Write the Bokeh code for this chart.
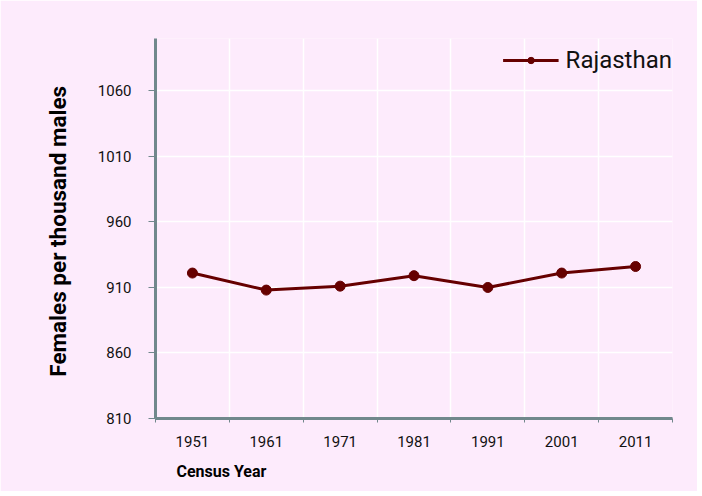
from bokeh.plotting import figure
from bokeh.models import FixedTicker, Legend, LegendItem, Title
from bokeh.embed import file_html
from bokeh.resources import INLINE

years = [1951, 1961, 1971, 1981, 1991, 2001, 2011]
sex_ratio = [921, 908, 911, 919, 910, 921, 926]
series_name = "Rajasthan"
y_ticks = [810, 860, 910, 960, 1010, 1060]
x_bounds = [1946, 1956, 1966, 1976, 1986, 1996, 2006, 2016]
x_title = "Census Year"
y_title = "Females per thousand  males"

BG = "#fdebfc"
AX = "#71888c"
LINE = "#660000"
NARROW = "Roboto"

p = figure(width=697, height=491, output_backend="svg", toolbar_location=None,
           x_range=(1946, 2016), y_range=(810, 1100),
           background_fill_color=BG, border_fill_color=BG,
           min_border_left=155, min_border_top=38, min_border_right=25, min_border_bottom=73)
p.outline_line_color = None

r = p.line(years, sex_ratio, line_color=LINE, line_width=3)
c = p.scatter(years, sex_ratio, size=10, fill_color=LINE, line_color=LINE)

# x axis
p.xaxis.ticker = FixedTicker(ticks=years, minor_ticks=x_bounds)
p.xaxis.axis_line_color = AX
p.xaxis.axis_line_width = 3
p.xaxis.major_tick_line_color = None
p.xaxis.major_tick_out = 0
p.xaxis.major_tick_in = 0
p.xaxis.minor_tick_line_color = AX
p.xaxis.minor_tick_line_width = 1
p.xaxis.minor_tick_out = 4
p.xaxis.minor_tick_in = 0
p.xaxis.major_label_standoff = 13
p.xaxis.major_label_text_font = NARROW
p.xaxis.major_label_text_font_size = "15px"
p.xaxis.major_label_text_color = "#111111"

# y axis
p.yaxis.ticker = FixedTicker(ticks=y_ticks)
p.yaxis.axis_line_color = AX
p.yaxis.axis_line_width = 3
p.yaxis.major_tick_line_color = AX
p.yaxis.major_tick_line_width = 1
p.yaxis.major_tick_out = 7
p.yaxis.major_tick_in = 0
p.yaxis.minor_tick_line_color = None
p.yaxis.major_label_standoff = 17
p.yaxis.major_label_text_font = NARROW
p.yaxis.major_label_text_font_size = "15px"
p.yaxis.major_label_text_color = "#111111"
p.yaxis.axis_label = y_title
p.yaxis.axis_label_text_font = "Roboto"
p.yaxis.axis_label_text_font_style = "bold"
p.yaxis.axis_label_text_font_size = "22.5px"
p.yaxis.axis_label_text_color = "#000000"
p.yaxis.axis_label_standoff = 24

# grids
p.xgrid.ticker = FixedTicker(ticks=x_bounds)
p.xgrid.grid_line_color = "white"
p.xgrid.grid_line_width = 1.5
p.ygrid.ticker = FixedTicker(ticks=y_ticks)
p.ygrid.grid_line_color = "white"
p.ygrid.grid_line_width = 1.5

# x axis title, left aligned
p.add_layout(Title(text=x_title, align="left", offset=21,
                   text_font="Roboto", text_font_style="bold",
                   text_font_size="16px", text_color="#000000",
                   standoff=21), "below")

legend = Legend(items=[LegendItem(label=series_name, renderers=[r, c])],
                location="top_right", background_fill_alpha=0,
                border_line_color=None, label_text_font=NARROW,
                label_text_font_size="24px", label_text_color="#111111",
                glyph_width=56, glyph_height=16, label_height=44,
                margin=0, padding=8, label_standoff=7)
p.add_layout(legend)

open("out.html", "w").write(file_html(p, INLINE))
